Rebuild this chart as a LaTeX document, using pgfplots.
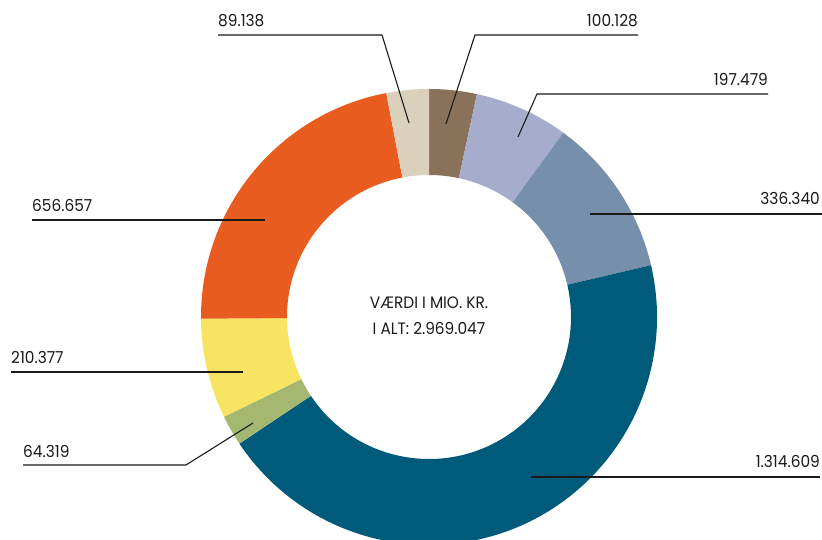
\documentclass[border=0pt]{standalone}
\usepackage{pgfplots}
\pgfplotsset{compat=1.18}
\usepackage{pgfplotstable}
\usepackage{fontspec}
\setmainfont{Poppins}[FakeStretch=0.93, Numbers=Proportional]

\definecolor{col0}{HTML}{8A7159}
\definecolor{col1}{HTML}{A6ACCB}
\definecolor{col2}{HTML}{7690AC}
\definecolor{col3}{HTML}{005A7A}
\definecolor{col4}{HTML}{A4B872}
\definecolor{col5}{HTML}{F7E463}
\definecolor{col6}{HTML}{E85C20}
\definecolor{col7}{HTML}{DAD0BC}
\definecolor{lead}{HTML}{1A1A1A}

\tikzset{lbl/.style={font=\fontsize{16.5}{20}\selectfont, inner sep=0pt, text=lead}}

% values in billion kr. (Danish thousands separator)
\pgfplotstableread{
value
100.128
197.479
336.340
1314.609
64.319
210.377
656.657
89.138
}\donut

\begin{document}
\begin{tikzpicture}
\pgfmathsetmacro\total{0}%
\pgfplotsforeachungrouped \i in {0,...,7}{%
  \pgfplotstablegetelem{\i}{value}\of\donut
  \pgfmathsetmacro\total{\total+\pgfplotsretval}%
}%
\pgfmathsetmacro\cum{0}%
\pgfplotsforeachungrouped \i in {0,...,7}{%
  \pgfplotstablegetelem{\i}{value}\of\donut
  \pgfmathsetmacro\sa{90-360*(\cum/\total)}%
  \pgfmathsetmacro\cum{\cum+\pgfplotsretval}%
  \pgfmathsetmacro\ea{90-360*(\cum/\total)}%
  \expandafter\xdef\csname sa\i\endcsname{\sa}%
  \expandafter\xdef\csname ea\i\endcsname{\ea}%
}%
\path[use as bounding box] (0,0) rectangle (822pt,540pt);
\begin{axis}[
  at={(0,0)}, anchor=south west,
  scale only axis, width=822pt, height=540pt,
  xmin=0, xmax=822, ymin=0, ymax=540,
  hide axis, clip=true,
]
\pgfplotsinvokeforeach{0,...,7}{
  \fill[col#1] (axis cs:429,223) ++(\csname sa#1\endcsname:228pt)
     arc[start angle=\csname sa#1\endcsname, end angle=\csname ea#1\endcsname, radius=228pt]
     -- ++(\csname ea#1\endcsname:-86pt)
     arc[start angle=\csname ea#1\endcsname, end angle=\csname sa#1\endcsname, radius=142pt]
     -- cycle;
}
% leader lines
\addplot[lead, line width=1.1pt, no marks] coordinates {(218,505) (382,505) (409,417)};
\addplot[lead, line width=1.1pt, no marks] coordinates {(638,505) (475,505) (446,416)};
\addplot[lead, line width=1.1pt, no marks] coordinates {(768,446) (537,446) (518,403)};
\addplot[lead, line width=1.1pt, no marks] coordinates {(822,326) (590,326)};
\addplot[lead, line width=1.1pt, no marks] coordinates {(820,63) (531,63)};
\addplot[lead, line width=1.1pt, no marks] coordinates {(32,320) (265,320)};
\addplot[lead, line width=1.1pt, no marks] coordinates {(11,168) (243,168)};
\addplot[lead, line width=1.1pt, no marks] coordinates {(23,75) (186,75) (253,117)};
% labels
\node[lbl, anchor=base west] at (axis cs:218,513) {89.138};
\node[lbl, anchor=base east] at (axis cs:638,513) {100.128};
\node[lbl, anchor=base east] at (axis cs:768,454) {197.479};
\node[lbl, anchor=base east] at (axis cs:820,335) {336.340};
\node[lbl, anchor=base east] at (axis cs:820,72) {1.314.609};
\node[lbl, anchor=base west] at (axis cs:32,328) {656.657};
\node[lbl, anchor=base west] at (axis cs:11,176) {210.377};
\node[lbl, anchor=base west] at (axis cs:23,82) {64.319};
\node[lbl, anchor=base] at (axis cs:429,231) {VÆRDI I MIO. KR.};
\node[lbl, anchor=base] at (axis cs:429,205) {I ALT: 2.969.047};
\end{axis}
\end{tikzpicture}
\end{document}
